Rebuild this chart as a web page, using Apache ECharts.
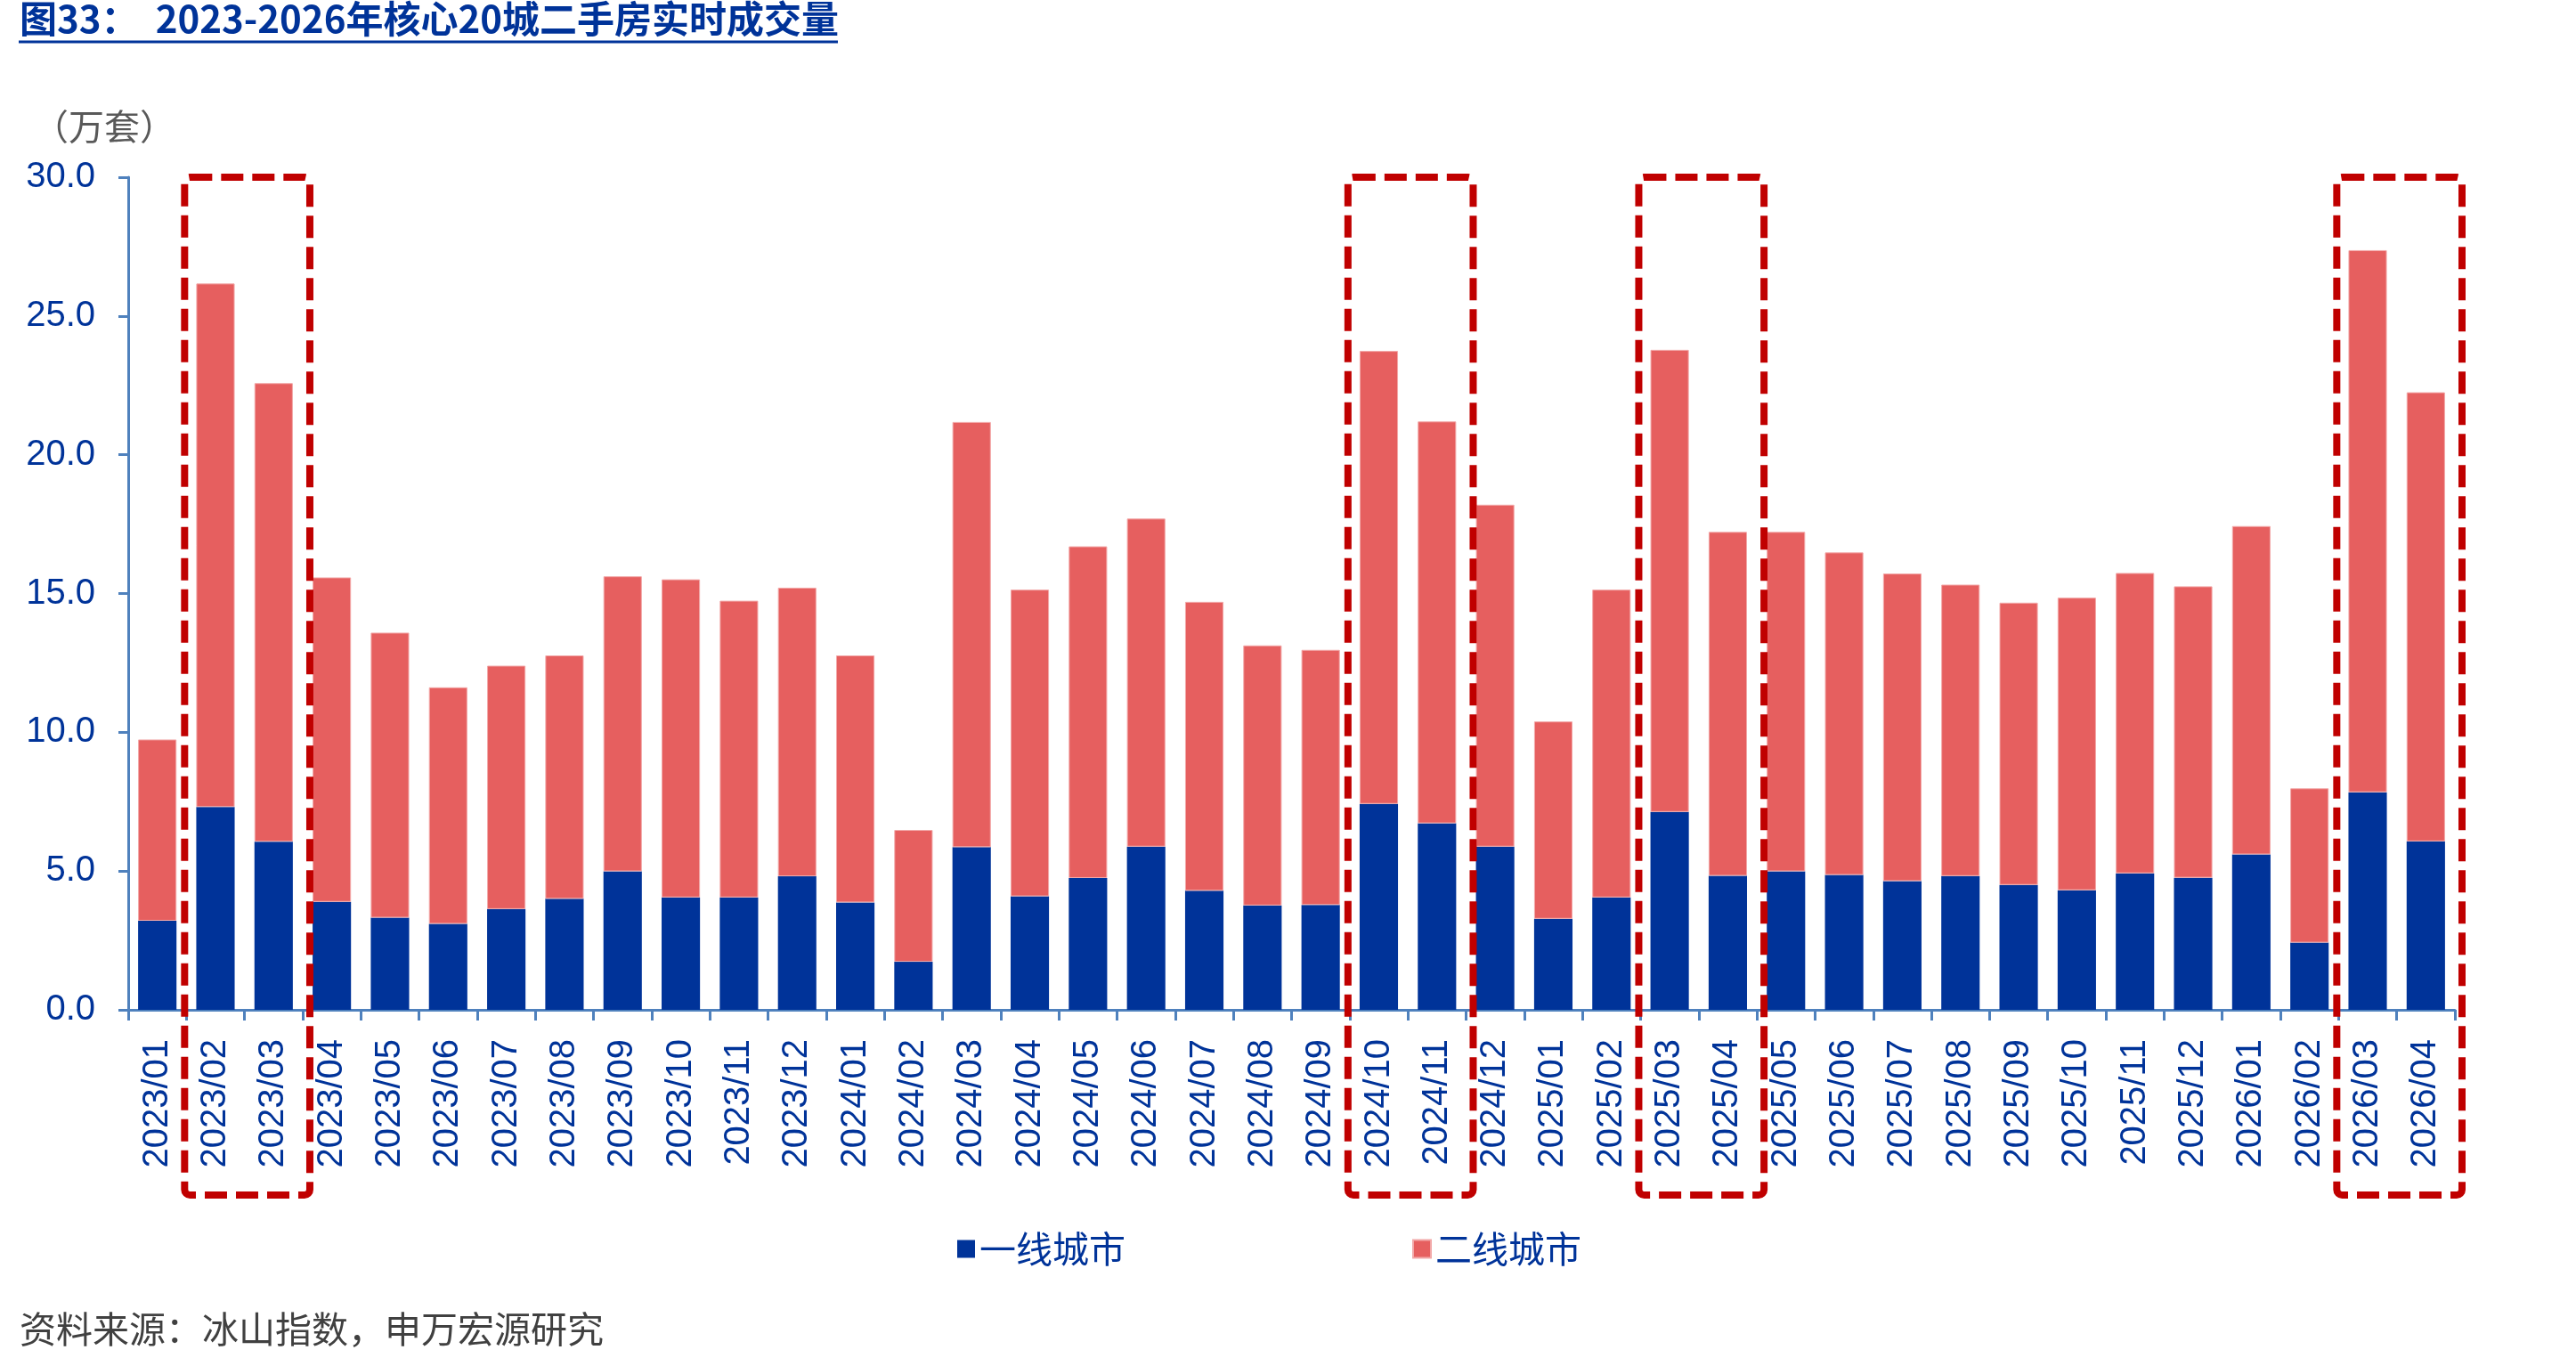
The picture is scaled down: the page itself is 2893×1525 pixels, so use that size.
<!DOCTYPE html>
<html>
<head>
<meta charset="utf-8">
<style>
    html, body { margin: 0; padding: 0; background: #fff; }
    #chart { width: 2893px; height: 1525px; }
</style>
<script src="https://cdn.jsdelivr.net/npm/echarts@6/dist/echarts.min.js"></script>
</head>
<body>
<div id="chart"></div>
<script>
// 月份
var months = [
    '2023/01', '2023/02', '2023/03', '2023/04', '2023/05', '2023/06', '2023/07', '2023/08',
    '2023/09', '2023/10', '2023/11', '2023/12', '2024/01', '2024/02', '2024/03', '2024/04',
    '2024/05', '2024/06', '2024/07', '2024/08', '2024/09', '2024/10', '2024/11', '2024/12',
    '2025/01', '2025/02', '2025/03', '2025/04', '2025/05', '2025/06', '2025/07', '2025/08',
    '2025/09', '2025/10', '2025/11', '2025/12', '2026/01', '2026/02', '2026/03', '2026/04'
];

// 一线城市（万套）
var tier1 = [
    3.21, 7.31, 6.06, 3.89, 3.32, 3.10, 3.63, 4.00,
    4.99, 4.05, 4.05, 4.81, 3.87, 1.73, 5.86, 4.09,
    4.75, 5.88, 4.29, 3.76, 3.78, 7.42, 6.72, 5.88,
    3.28, 4.05, 7.13, 4.83, 4.99, 4.86, 4.64, 4.82,
    4.50, 4.31, 4.92, 4.76, 5.60, 2.42, 7.84, 6.07
];

// 二线城市（万套）
var tier2 = [
    6.53, 18.86, 16.52, 11.69, 10.27, 8.52, 8.77, 8.77,
    10.63, 11.46, 10.69, 10.40, 8.90, 4.75, 15.32, 11.05,
    11.95, 11.82, 10.41, 9.37, 9.19, 16.32, 14.48, 12.32,
    7.11, 11.09, 16.65, 12.39, 12.23, 11.62, 11.08, 10.50,
    10.17, 10.54, 10.82, 10.50, 11.83, 5.56, 19.53, 16.18
];

// 纵轴刻度
var yTicks = [0, 5, 10, 15, 20, 25, 30];

// 红色虚线框：起止月份下标
var highlights = [[1, 2], [21, 22], [26, 27], [38, 39]];

var BLUE = '#003399';
var RED = '#E65F5F';
var AXIS = '#4F81BD';
var LATIN = '"Liberation Sans", Arial, sans-serif';
var CJK = '"Noto Sans CJK SC", sans-serif';

var myChart = echarts.init(document.getElementById('chart'));

var option = {
    animation: false,
    backgroundColor: '#fff',
    grid: {
        left: 144,
        right: 136,
        top: 199,
        bottom: 391,
        containLabel: false
    },
    legend: {
        data: ['一线城市', '二线城市'],
        left: 1070,
        top: 1377,
        icon: 'rect',
        itemWidth: 20,
        itemHeight: 20,
        itemGap: 322,
        textStyle: {
            fontFamily: CJK,
            fontSize: 41,
            color: BLUE
        }
    },
    xAxis: {
        type: 'category',
        data: months,
        axisLine: {lineStyle: {color: AXIS, width: 3}},
        axisTick: {show: true, interval: 0, length: 12, lineStyle: {color: AXIS, width: 3}},
        axisLabel: {
            interval: 0,
            rotate: 90,
            margin: 33,
            fontFamily: LATIN,
            fontSize: 40,
            color: BLUE
        },
        splitLine: {show: false}
    },
    yAxis: {
        type: 'value',
        min: yTicks[0],
        max: yTicks[yTicks.length - 1],
        interval: yTicks[1] - yTicks[0],
        axisLine: {show: true, lineStyle: {color: AXIS, width: 3}},
        axisTick: {show: true, length: 11, lineStyle: {color: AXIS, width: 3}},
        axisLabel: {
            margin: 37,
            fontFamily: LATIN,
            fontSize: 40,
            color: BLUE,
            formatter: function (v) {
                return v.toFixed(1);
            }
        },
        splitLine: {show: false}
    },
    series: [
        {
            name: '一线城市',
            type: 'bar',
            stack: 'total',
            barWidth: '66%',
            itemStyle: {color: BLUE},
            data: tier1
        },
        {
            name: '二线城市',
            type: 'bar',
            stack: 'total',
            barWidth: '66%',
            itemStyle: {color: RED, borderColor: '#F2A8A8', borderWidth: 1},
            data: tier2
        }
    ]
};

myChart.setOption(option);

// 标题、单位、来源和虚线框
var graphics = [
    {
        type: 'text',
        left: 22,
        top: 0,
        style: {
            text: '图33：  2023-2026年核心20城二手房实时成交量',
            font: 'bold 42px ' + CJK,
            fill: BLUE
        }
    },
    {
        type: 'line',
        shape: {x1: 21, y1: 47, x2: 941, y2: 47},
        style: {stroke: BLUE, lineWidth: 3}
    },
    {
        type: 'text',
        left: 37,
        top: 122,
        style: {
            text: '（万套）',
            font: '40px ' + CJK,
            fill: '#595959'
        }
    },
    {
        type: 'text',
        left: 22,
        top: 1472,
        style: {
            text: '资料来源：冰山指数，申万宏源研究',
            font: '41px ' + CJK,
            fill: '#404040'
        }
    }
];

var c0 = myChart.convertToPixel({xAxisIndex: 0}, 0);
var c1 = myChart.convertToPixel({xAxisIndex: 0}, 1);
var band = c1 - c0;
var boxTop = myChart.convertToPixel({yAxisIndex: 0}, yTicks[yTicks.length - 1]);
var boxBottom = 1342;

highlights.forEach(function (h) {
    var x1 = myChart.convertToPixel({xAxisIndex: 0}, h[0]) - band / 2 - 2;
    var x2 = myChart.convertToPixel({xAxisIndex: 0}, h[1]) + band / 2 + 8;
    graphics.push({
        type: 'rect',
        z: 100,
        shape: {x: x1, y: boxTop, width: x2 - x1, height: boxBottom - boxTop, r: 6},
        style: {
            fill: null,
            stroke: '#C00000',
            lineWidth: 8,
            lineDash: [25, 10]
        }
    });
});

myChart.setOption({graphic: graphics});
</script>
</body>
</html>
